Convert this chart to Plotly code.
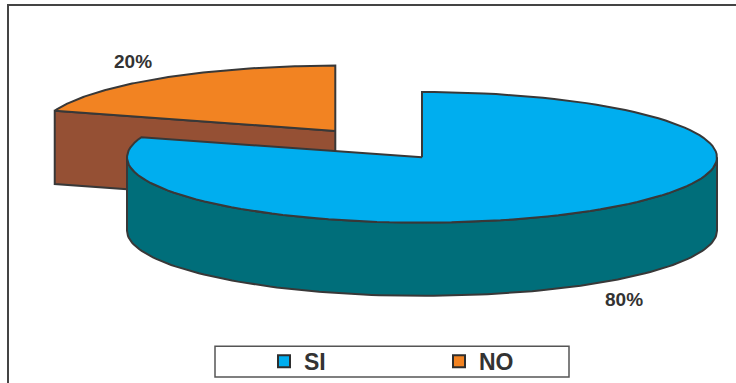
import numpy as np
import plotly.graph_objects as go

# Survey answers and their shares (percent)
categories = ["SI", "NO"]
values = [80, 20]
explode = [0.0, 0.5]          # fraction of the radius each slice is pulled out
top_colors = ["#00AEEF", "#F28322"]
side_colors = ["#006E7A", "#955034"]
outline = "#383838"

# Pseudo-3D pie geometry (pixel space of the figure)
W, H = 736, 383
CX, CY = 422, 159            # centre of the top face
A, B = 295, 66               # ellipse semi-axes
DEPTH = 74                   # thickness of the pie
START = np.pi / 2            # first slice starts at 12 o'clock, runs clockwise
LABEL_KX, LABEL_KY = 1.165, 1.31   # label distance, relative to the semi-axes


def pt(theta, cx, cy, dz=0.0):
    return cx + A * np.cos(theta), cy - B * np.sin(theta) + dz


def arc(t_from, t_to, cx, cy, dz=0.0, n=120):
    t = np.linspace(t_from, t_to, n)
    return pt(t, cx, cy, dz)


total = float(sum(values))
slices = []
angle = START
for name, v, ex, ct, cs in zip(categories, values, explode, top_colors, side_colors):
    sweep = 2 * np.pi * v / total
    t1, t2 = angle, angle - sweep      # t1 > t2 (clockwise)
    mid = (t1 + t2) / 2
    cx = CX + ex * A * np.cos(mid)
    cy = CY - ex * B * np.sin(mid)
    slices.append(dict(name=name, v=v, t1=t1, t2=t2, mid=mid, cx=cx, cy=cy, ct=ct, cs=cs))
    angle = t2

fig = go.Figure()


def poly(xs, ys, color):
    xs = list(xs) + [xs[0]]
    ys = list(ys) + [ys[0]]
    fig.add_trace(go.Scatter(
        x=xs, y=ys, mode="lines", fill="toself", fillcolor=color,
        line=dict(color=outline, width=2), hoverinfo="skip", showlegend=False))


# paint slices from back to front
for s in sorted(slices, key=lambda s: -np.sin(s["mid"])):
    cx, cy = s["cx"], s["cy"]
    # radial walls facing the viewer
    for edge, normal in ((s["t1"], s["t1"] + np.pi / 2), (s["t2"], s["t2"] - np.pi / 2)):
        if np.sin(normal) < -1e-6:
            ex_, ey_ = pt(edge, cx, cy)
            xs = [cx, ex_, ex_, cx]
            ys = [cy, ey_, ey_ + DEPTH, cy + DEPTH]
            poly(xs, ys, s["cs"])
    # outer curved wall on the front half
    for k in range(-2, 2):
        lo = max(s["t2"], np.pi + 2 * np.pi * k)
        hi = min(s["t1"], 2 * np.pi + 2 * np.pi * k)
        if hi > lo:
            tx, ty = arc(lo, hi, cx, cy)
            bx, by = arc(hi, lo, cx, cy, DEPTH)
            poly(np.concatenate([tx, bx]), np.concatenate([ty, by]), s["cs"])
    # top face
    ax, ay = arc(s["t1"], s["t2"], cx, cy)
    poly(np.concatenate([[cx], ax]), np.concatenate([[cy], ay]), s["ct"])

# percentage labels outside each slice
for s in slices:
    lx = s["cx"] + LABEL_KX * A * np.cos(s["mid"])
    ly = s["cy"] - LABEL_KY * B * np.sin(s["mid"]) + (DEPTH if np.sin(s["mid"]) < 0 else 0)
    fig.add_annotation(x=lx, y=ly, text=f"{s['v']}%", showarrow=False,
                       font=dict(family="Liberation Sans, Arial", size=19,
                                 color="#333333", weight="bold"))

# legend entries
for name, c in zip(categories, top_colors):
    fig.add_trace(go.Scatter(
        x=[None], y=[None], mode="markers", name=name,
        marker=dict(symbol="square", size=12, color=c,
                    line=dict(color="#2e2e2e", width=2))))

fig.update_layout(
    width=W, height=H,
    margin=dict(l=0, r=0, t=0, b=0),
    paper_bgcolor="white", plot_bgcolor="white",
    xaxis=dict(range=[0, W], visible=False, fixedrange=True),
    yaxis=dict(range=[H, 0], visible=False, fixedrange=True),
    showlegend=True,
    legend=dict(orientation="h", x=264 / W, xanchor="left",
                y=1 - 365 / H, yanchor="middle",
                entrywidth=130, entrywidthmode="pixels",
                bgcolor="rgba(0,0,0,0)", borderwidth=0,
                font=dict(family="Liberation Sans, Arial", size=23,
                          color="#333333", weight="bold")),
    shapes=[
        # outer frame
        dict(type="rect", xref="paper", yref="paper",
             x0=8 / W, x1=1.02, y0=-0.02, y1=1 - 5 / H,
             line=dict(color="#444444", width=2), layer="below"),
        # legend box
        dict(type="rect", xref="paper", yref="paper",
             x0=215 / W, x1=569 / W, y0=1 - 381 / H, y1=1 - 350 / H,
             line=dict(color="#555555", width=1.5), layer="below"),
    ],
)

fig.write_html("out.html")
